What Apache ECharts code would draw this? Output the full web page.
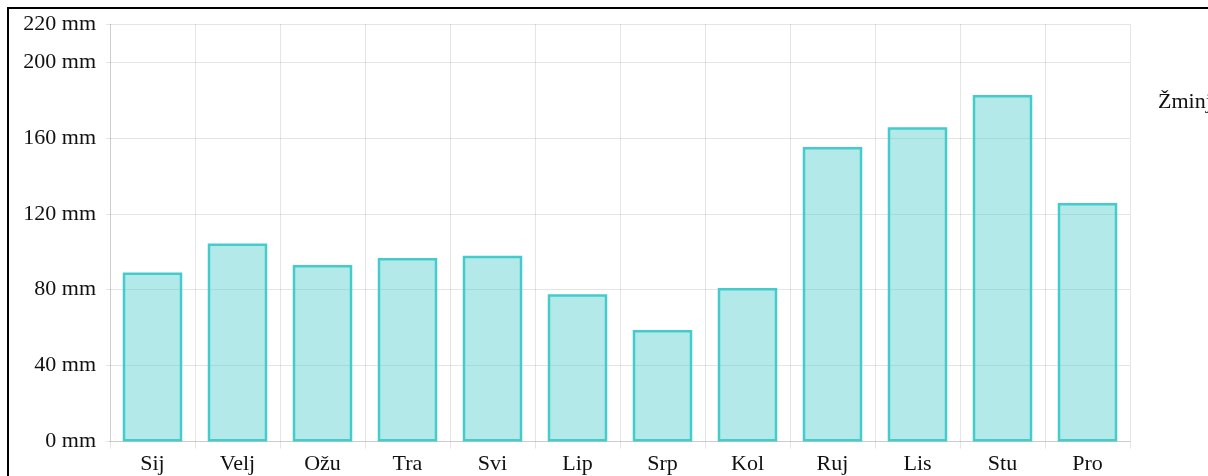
<!DOCTYPE html>
<html>
<head>
<meta charset="utf-8">
<script src="https://cdn.jsdelivr.net/npm/echarts@6/dist/echarts.min.js"></script>
<style>
	html, body { margin: 0; padding: 0; background: #fff; }
	#frame { position: absolute; left: 7px; top: 7px; right: 0; bottom: 0; border-top: 2px solid #000; border-left: 2px solid #000; }
	#chart { position: absolute; left: 0; top: 0; width: 1208px; height: 476px; }
</style>
</head>
<body>
<div id="frame"></div>
<div id="chart"></div>
<script>
// mjeseci i oborine (mm)
var months = ['Sij', 'Velj', 'Ožu', 'Tra', 'Svi', 'Lip', 'Srp', 'Kol', 'Ruj', 'Lis', 'Stu', 'Pro'];
var zminj = [89, 104.4, 93, 96.7, 97.9, 77.6, 58.8, 80.9, 155.2, 165.6, 182.6, 125.7];
var seriesName = 'Žminj';
var yMax = 220;
var yStep = 40;

var myChart = echarts.init(document.getElementById('chart'));
var font = '"Liberation Serif", "DejaVu Serif", serif';
var gridColor = 'rgba(0,0,0,0.1)';

var option = {
	animation: false,
	textStyle: { fontFamily: font },
	legend: {
		left: 1153,
		top: 91,
		padding: 0,
		itemWidth: 0,
		itemHeight: 0,
		itemGap: 0,
		textStyle: { fontFamily: font, fontSize: 22, color: '#111', padding: 0 },
		data: [{ name: seriesName, icon: 'none' }]
	},
	grid: {
		left: 110,
		right: 78,
		top: 24,
		bottom: 34.5
	},
	xAxis: {
		type: 'category',
		data: months,
		axisLine: { lineStyle: { color: '#ccc' } },
		axisTick: { show: true, length: 7, lineStyle: { color: gridColor } },
		splitLine: { show: true, lineStyle: { color: gridColor } },
		axisLabel: { fontFamily: font, fontSize: 22, color: '#111', margin: 12 }
	},
	yAxis: {
		type: 'value',
		min: 0,
		max: yMax,
		interval: yStep,
		axisLine: { show: true, lineStyle: { color: gridColor } },
		axisTick: { show: true, length: 4, lineStyle: { color: gridColor } },
		splitLine: { lineStyle: { color: gridColor } },
		axisLabel: {
			fontFamily: font, fontSize: 22, color: '#111', margin: 14,
			formatter: function(v) { return v + ' mm'; }
		}
	},
	series: [{
		name: seriesName,
		type: 'bar',
		data: zminj,
		barCategoryGap: '30%',
		itemStyle: {
			color: 'rgba(64,200,200,0.4)',
			borderColor: '#44cccc',
			borderWidth: 2.5
		}
	}]
};
myChart.setOption(option);
</script>
</body>
</html>
